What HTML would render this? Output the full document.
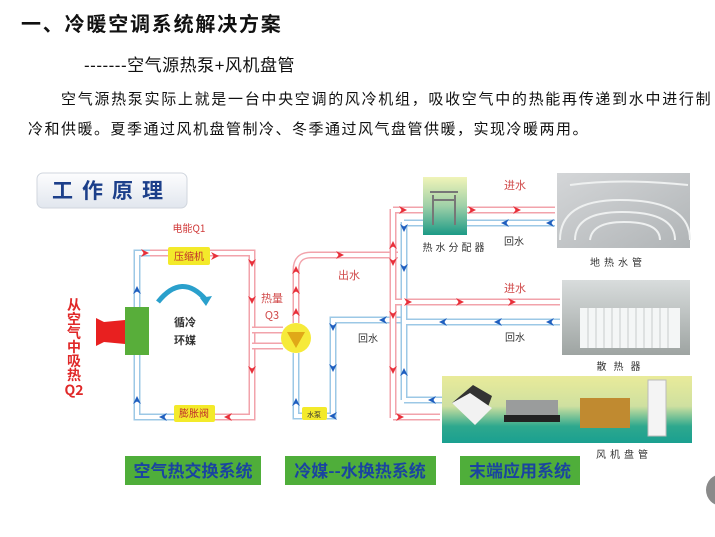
<!DOCTYPE html>
<html><head><meta charset="utf-8">
<style>
html,body{margin:0;padding:0;background:#fff;width:715px;height:537px;overflow:hidden;}
body{position:relative;font-family:"Liberation Sans","Noto Sans CJK SC",sans-serif;}
.t{position:absolute;white-space:nowrap;color:#111;}
svg{position:absolute;left:0;top:0;}
.pr{fill:none;stroke:#f2a3ab;stroke-width:7;}
.pb{fill:none;stroke:#9cc8e6;stroke-width:7;}
.w{fill:none;stroke:#fff;stroke-width:4;}
</style></head><body>
<div class="t" style="left:21px;top:8px;font-size:20px;font-weight:bold;letter-spacing:1.8px;">一、冷暖空调系统解决方案</div>
<div class="t" style="left:84px;top:51px;font-size:17px;letter-spacing:0.5px;">-------空气源热泵+风机盘管</div>
<div class="t" style="left:61px;top:88px;font-size:15px;letter-spacing:1.7px;">空气源热泵实际上就是一台中央空调的风冷机组，吸收空气中的热能再传递到水中进行制</div>
<div class="t" style="left:28px;top:118px;font-size:15px;letter-spacing:1.5px;">冷和供暖。夏季通过风机盘管制冷、冬季通过风气盘管供暖，实现冷暖两用。</div>

<svg width="715" height="537" viewBox="0 0 715 537">
<defs>
<linearGradient id="gbox" x1="0" y1="0" x2="0" y2="1"><stop offset="0" stop-color="#fdfdfe"/><stop offset="1" stop-color="#e1e6ee"/></linearGradient>
<linearGradient id="gpan" x1="0" y1="0" x2="0" y2="1"><stop offset="0" stop-color="#e9eb9a"/><stop offset="0.45" stop-color="#cfe0a0"/><stop offset="0.75" stop-color="#2ea88e"/><stop offset="1" stop-color="#1aa090"/></linearGradient>
<linearGradient id="gdist" x1="0" y1="0" x2="0" y2="1"><stop offset="0" stop-color="#f0f4b8"/><stop offset="0.5" stop-color="#9fd0a8"/><stop offset="1" stop-color="#1c9a86"/></linearGradient>
<linearGradient id="gfloor" x1="0" y1="0" x2="1" y2="1"><stop offset="0" stop-color="#d4d6d8"/><stop offset="1" stop-color="#b0b4b6"/></linearGradient>
<linearGradient id="grad" x1="0" y1="0" x2="0" y2="1"><stop offset="0" stop-color="#d8dcdc"/><stop offset="1" stop-color="#9ea4a2"/></linearGradient>
<polygon id="ar" points="-4,-4 4,0 -4,4 -1.5,0" fill="#e8303a"/>
<polygon id="ab" points="-4,-4 4,0 -4,4 -1.5,0" fill="#1f5fbf"/>
</defs>

<rect x="37" y="173" width="150" height="35" rx="6" fill="url(#gbox)" stroke="#d0d6de"/>
<text x="112" y="198" text-anchor="middle" font-size="21" font-weight="bold" fill="#1c3f8a" letter-spacing="9" font-family="Liberation Sans,Noto Sans CJK SC,sans-serif">工作原理</text>

<path class="pb" d="M137 330 V253 H252 V417 H137 V330"/>
<path class="pr" d="M150 253 H252 V417 H200"/>
<path class="w" d="M137 330 V253 H252 V417 H137 V330"/>
<path class="pr" d="M252 330 H283 M252 346 H283"/>
<path class="w" d="M250 330 H283 M250 346 H283"/>
<path class="pr" d="M296 323 V270 Q296 255 311 255 H398"/>
<path class="w" d="M296 323 V270 Q296 255 311 255 H398"/>
<path class="pb" d="M296 353 V416 H333 V320 H402"/>
<path class="w" d="M296 353 V416 H333 V320 H402"/>
<path class="pr" d="M393 209 V418"/>
<path class="pb" d="M404 222 V400"/>
<path class="w" d="M393 209 V418 M404 222 V400"/>
<path class="pr" d="M393 210 H555"/>
<path class="pb" d="M404 223 H555"/>
<path class="pr" d="M393 302 H560"/>
<path class="pb" d="M404 322 H560"/>
<path class="pb" d="M404 400 H442"/>
<path class="pr" d="M393 417 H440"/>
<path class="w" d="M393 210 H555 M404 223 H555 M393 302 H560 M404 322 H560 M404 400 H442 M393 417 H440"/>
<path class="w" d="M393 209 V418 M404 222 V400"/>

<g transform="translate(145,253)"><use href="#ar"/></g>
<g transform="translate(215,256)"><use href="#ar"/></g>
<g transform="translate(252,263) rotate(90)"><use href="#ar"/></g>
<g transform="translate(252,300) rotate(90)"><use href="#ar"/></g>
<g transform="translate(252,370) rotate(90)"><use href="#ar"/></g>
<g transform="translate(228,417) rotate(180)"><use href="#ar"/></g>
<g transform="translate(137,290) rotate(-90)"><use href="#ab"/></g>
<g transform="translate(137,400) rotate(-90)"><use href="#ab"/></g>
<g transform="translate(163,417) rotate(180)"><use href="#ab"/></g>
<g transform="translate(296,312) rotate(-90)"><use href="#ar"/></g>
<g transform="translate(296,290) rotate(-90)"><use href="#ar"/></g>
<g transform="translate(296,270) rotate(-90)"><use href="#ar"/></g>
<g transform="translate(340,255)"><use href="#ar"/></g>
<g transform="translate(296,402) rotate(-90)"><use href="#ab"/></g>
<g transform="translate(333,327) rotate(90)"><use href="#ab"/></g>
<g transform="translate(333,368) rotate(90)"><use href="#ab"/></g>
<g transform="translate(333,416) rotate(180)"><use href="#ab"/></g>
<g transform="translate(383,320) rotate(180)"><use href="#ab"/></g>
<g transform="translate(393,245) rotate(-90)"><use href="#ar"/></g>
<g transform="translate(393,262) rotate(90)"><use href="#ar"/></g>
<g transform="translate(393,315) rotate(90)"><use href="#ar"/></g>
<g transform="translate(393,370) rotate(90)"><use href="#ar"/></g>
<g transform="translate(404,228) rotate(90)"><use href="#ab"/></g>
<g transform="translate(404,268) rotate(90)"><use href="#ab"/></g>
<g transform="translate(404,372) rotate(-90)"><use href="#ab"/></g>
<g transform="translate(403,210)"><use href="#ar"/></g>
<g transform="translate(472,210)"><use href="#ar"/></g>
<g transform="translate(517,210)"><use href="#ar"/></g>
<g transform="translate(505,223) rotate(180)"><use href="#ab"/></g>
<g transform="translate(550,223) rotate(180)"><use href="#ab"/></g>
<g transform="translate(408,302)"><use href="#ar"/></g>
<g transform="translate(460,302)"><use href="#ar"/></g>
<g transform="translate(512,302)"><use href="#ar"/></g>
<g transform="translate(443,322) rotate(180)"><use href="#ab"/></g>
<g transform="translate(498,322) rotate(180)"><use href="#ab"/></g>
<g transform="translate(550,322) rotate(180)"><use href="#ab"/></g>
<g transform="translate(432,400) rotate(180)"><use href="#ab"/></g>
<g transform="translate(400,417)"><use href="#ar"/></g>

<rect x="168" y="247" width="42" height="18" rx="2" fill="#f3ea2a"/>
<text x="189" y="260" text-anchor="middle" font-size="10" fill="#c0302a" font-family="Noto Sans CJK SC,sans-serif">压缩机</text>
<rect x="174" y="405" width="41" height="17" rx="2" fill="#f3ea2a"/>
<text x="194" y="417" text-anchor="middle" font-size="10" fill="#c0302a" font-family="Noto Sans CJK SC,sans-serif">膨胀阀</text>
<rect x="302" y="407" width="25" height="13" rx="2" fill="#f3ea2a"/>
<text x="314" y="417" text-anchor="middle" font-size="7" fill="#333" font-family="Noto Sans CJK SC,sans-serif">水泵</text>
<rect x="125" y="307" width="24" height="48" fill="#58ae3a"/>
<path d="M96 318 L104 322 L125 320 V344 L104 342 L96 346 Z" fill="#e82020"/>
<path d="M158 302 Q182 272 206 300" fill="none" stroke="#2aa0cc" stroke-width="5"/>
<polygon points="200,298 212,296 206,306" fill="#2aa0cc"/>
<circle cx="296" cy="338" r="15" fill="#f6ea3a"/>
<polygon points="287,332 305,332 296,348" fill="#e0a818"/>

<text font-family="Noto Sans CJK SC,sans-serif" font-size="10" fill="#d03a3a" x="189" y="232" text-anchor="middle">电能Q1</text>
<g font-family="Noto Sans CJK SC,sans-serif" font-size="14" font-weight="bold" fill="#e02828" text-anchor="middle">
<text x="74" y="310">从</text><text x="74" y="324">空</text><text x="74" y="338">气</text><text x="74" y="352">中</text><text x="74" y="366">吸</text><text x="74" y="380">热</text><text x="74" y="395">Q2</text>
</g>
<g font-family="Noto Sans CJK SC,sans-serif" font-size="11" font-weight="bold" fill="#333" text-anchor="middle">
<text x="185" y="326">循冷</text><text x="185" y="344">环媒</text>
</g>
<g font-family="Noto Sans CJK SC,sans-serif" font-size="11" fill="#d04a4a" text-anchor="middle">
<text x="272" y="302">热量</text><text x="272" y="319">Q3</text>
<text x="349" y="279">出水</text>
<text x="515" y="189">进水</text><text x="515" y="292">进水</text>
</g>
<g font-family="Noto Sans CJK SC,sans-serif" font-size="10" fill="#333" text-anchor="middle">
<text x="368" y="342">回水</text>
<text x="514" y="245">回水</text><text x="515" y="341">回水</text>
<text x="455" y="251" letter-spacing="3">热水分配器</text>
<text x="618" y="266" letter-spacing="4">地热水管</text>
<text x="622" y="370" letter-spacing="7">散热器</text>
<text x="624" y="458" letter-spacing="4">风机盘管</text>
</g>

<rect x="423" y="177" width="44" height="58" fill="url(#gdist)"/>
<path d="M430 192 H458 M432 200 H456 M433 195 V225 M455 195 V225" stroke="#777" stroke-width="2" fill="none"/>
<rect x="557" y="173" width="133" height="75" fill="url(#gfloor)"/>
<g fill="none" stroke="#eef0f0" stroke-width="2">
<path d="M560 240 Q560 200 620 200 Q690 200 690 240"/>
<path d="M575 240 Q575 212 622 212 Q675 212 675 240"/>
<path d="M590 240 Q592 222 624 222 Q660 222 660 240"/>
<path d="M570 185 Q620 178 688 185"/>
</g>
<rect x="562" y="280" width="128" height="75" fill="url(#grad)"/>
<rect x="580" y="308" width="100" height="40" fill="#f4f6f6"/>
<g stroke="#c8cccc" stroke-width="1">
<path d="M588 308 V348 M596 308 V348 M604 308 V348 M612 308 V348 M620 308 V348 M628 308 V348 M636 308 V348 M644 308 V348 M652 308 V348 M660 308 V348 M668 308 V348"/>
</g>
<rect x="442" y="376" width="250" height="67" fill="url(#gpan)"/>
<polygon points="473,385 492,396 485,415 465,412 452,403" fill="#333"/>
<polygon points="452,403 470,393 492,408 475,425" fill="#f2f2f2"/>
<rect x="506" y="400" width="52" height="20" fill="#9a9c9c"/>
<rect x="504" y="415" width="56" height="7" fill="#222"/>
<rect x="580" y="398" width="50" height="30" fill="#c08a30"/>
<rect x="648" y="380" width="18" height="56" fill="#f4f4f4" stroke="#bbb"/>

<rect x="125" y="456" width="136" height="29" fill="#4fae3a"/>
<rect x="285" y="456" width="151" height="29" fill="#4fae3a"/>
<rect x="460" y="456" width="120" height="29" fill="#4fae3a"/>
<g font-family="Noto Sans CJK SC,sans-serif" font-size="17" font-weight="bold" fill="#1a44a0" text-anchor="middle">
<text x="193" y="477">空气热交换系统</text>
<text x="360" y="477">冷媒--水换热系统</text>
<text x="520" y="477">末端应用系统</text>
</g>
<circle cx="722" cy="490" r="16" fill="#8a8a8a"/>
</svg>
</body></html>
